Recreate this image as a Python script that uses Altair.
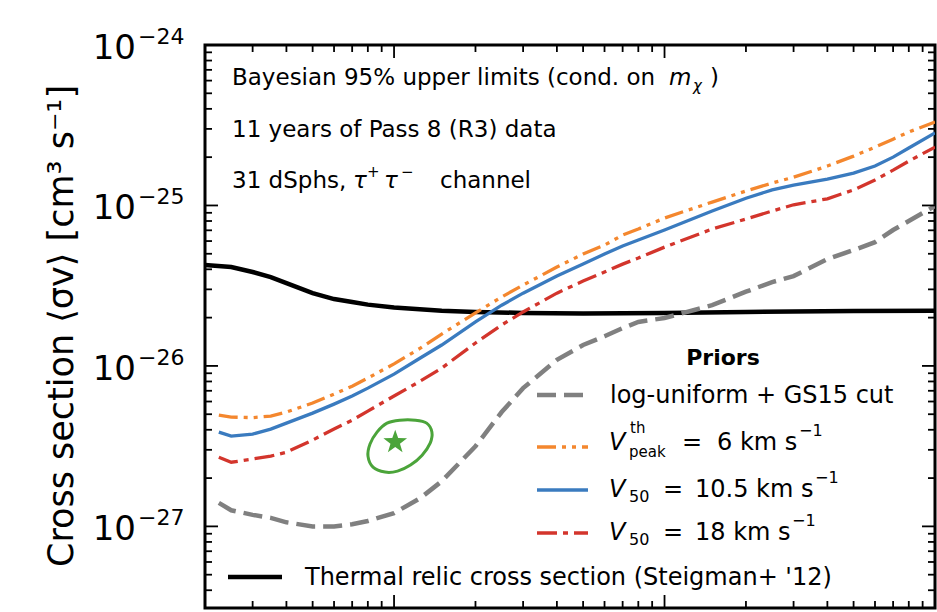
import altair as alt
import pandas as pd

# ---------------- data ----------------
mass = [2.25, 2.5, 3, 3.5, 4, 5, 6, 7, 8, 10, 12.5, 15, 20, 25, 30, 40, 50, 60, 70, 80,
        100, 150, 200, 250, 300, 400, 500, 600, 700, 800, 1000]

sv_vpeak6 = [4.94e-27, 4.80e-27, 4.76e-27, 4.87e-27, 5.16e-27, 5.87e-27, 6.67e-27, 7.48e-27, 8.40e-27,
             1.03e-26, 1.29e-26, 1.58e-26, 2.14e-26, 2.69e-26, 3.19e-26, 4.13e-26, 4.98e-26, 5.66e-26,
             6.54e-26, 7.13e-26, 8.35e-26, 1.05e-25, 1.23e-25, 1.38e-25, 1.50e-25, 1.76e-25, 2.03e-25,
             2.31e-25, 2.59e-25, 2.87e-25, 3.31e-25]

sv_v50_105 = [3.87e-27, 3.65e-27, 3.76e-27, 4.04e-27, 4.40e-27, 5.08e-27, 5.78e-27, 6.49e-27, 7.27e-27,
              8.89e-27, 1.12e-26, 1.35e-26, 1.88e-26, 2.39e-26, 2.84e-26, 3.63e-26, 4.31e-26, 4.98e-26,
              5.59e-26, 6.09e-26, 7.03e-26, 9.23e-26, 1.11e-25, 1.25e-25, 1.34e-25, 1.46e-25, 1.59e-25,
              1.76e-25, 2.00e-25, 2.28e-25, 2.83e-25]

sv_v50_18 = [2.70e-27, 2.51e-27, 2.63e-27, 2.74e-27, 2.90e-27, 3.45e-27, 4.04e-27, 4.59e-27, 5.23e-27,
             6.49e-27, 8.04e-27, 9.69e-27, 1.39e-26, 1.80e-26, 2.17e-26, 2.84e-26, 3.38e-26, 3.85e-26,
             4.31e-26, 4.70e-26, 5.50e-26, 7.13e-26, 8.23e-26, 9.23e-26, 1.01e-25, 1.10e-25, 1.25e-25,
             1.44e-25, 1.66e-25, 1.89e-25, 2.31e-25]

sv_loguniform = [1.40e-27, 1.26e-27, 1.18e-27, 1.13e-27, 1.06e-27, 1.00e-27, 1.00e-27, 1.03e-27, 1.08e-27,
                 1.21e-27, 1.50e-27, 1.91e-27, 3.16e-27, 5.16e-27, 7.27e-27, 1.09e-26, 1.35e-26, 1.53e-26,
                 1.72e-26, 1.88e-26, 1.99e-26, 2.39e-26, 2.90e-26, 3.33e-26, 3.63e-26, 4.63e-26, 5.27e-26,
                 5.91e-26, 7.03e-26, 8.00e-26, 9.92e-26]

thermal_mass = [2, 2.5, 3, 3.5, 4, 5, 6, 7, 8, 10, 15, 20, 30, 50, 100, 200, 500, 1000]
thermal_sv = [4.25e-26, 4.13e-26, 3.85e-26, 3.58e-26, 3.28e-26, 2.84e-26, 2.61e-26, 2.50e-26, 2.41e-26,
              2.31e-26, 2.21e-26, 2.17e-26, 2.14e-26, 2.12e-26, 2.14e-26, 2.17e-26, 2.20e-26, 2.21e-26]

contour_mass = [9.42, 10.5, 12.0, 13.2, 13.8, 13.6, 12.7, 11.5, 10.3, 9.26, 8.36, 8.01, 8.15, 8.65]
contour_sv = [4.40e-27, 4.59e-27, 4.59e-27, 4.40e-27, 3.87e-27, 3.30e-27, 2.78e-27, 2.41e-27, 2.21e-27,
              2.18e-27, 2.34e-27, 2.74e-27, 3.26e-27, 3.87e-27]

best_mass = [10.1]
best_sv = [3.35e-27]

x_domain = [2, 1000]
y_domain = [3.1e-28, 1e-24]

y_major = [1e-27, 1e-26, 1e-25, 1e-24]
y_major_labels = ["\u221227", "\u221226", "\u221225", "\u221224"]
y_minor = [4e-28, 5e-28, 6e-28, 7e-28, 8e-28, 9e-28,
           2e-27, 3e-27, 4e-27, 5e-27, 6e-27, 7e-27, 8e-27, 9e-27,
           2e-26, 3e-26, 4e-26, 5e-26, 6e-26, 7e-26, 8e-26, 9e-26,
           2e-25, 3e-25, 4e-25, 5e-25, 6e-25, 7e-25, 8e-25, 9e-25]
x_major = [10, 100]
x_minor = [3, 4, 5, 6, 7, 8, 9, 20, 30, 40, 50, 60, 70, 80, 90,
           200, 300, 400, 500, 600, 700, 800, 900]

# ---------------- styling ----------------
W, H = 730, 563
OX, OY = 205, 45          # plot origin inside the page
FONT = "DejaVu Sans"
C_ORANGE = "#f4872e"
C_BLUE = "#3a7bbf"
C_RED = "#d3352c"
C_GRAY = "#808080"
C_GREEN = "#4ba43a"
DASH_GRAY = [19, 8]
DASH_ORANGE = [19, 6, 4, 6, 4, 6]
DASH_RED = [20, 6, 5, 6]

xs = alt.Scale(type="log", domain=x_domain)
ys = alt.Scale(type="log", domain=y_domain)
dummy = pd.DataFrame({"a": [0]})


def curve(m, s, color, width, dash=None):
    df = pd.DataFrame({"m": m, "s": s})
    props = dict(color=color, strokeWidth=width, clip=True)
    if dash:
        props["strokeDash"] = dash
    return alt.Chart(df).mark_line(**props).encode(
        x=alt.X("m:Q", scale=xs, axis=None),
        y=alt.Y("s:Q", scale=ys, axis=None),
    )


def yticks(vals, x1, x2):
    return alt.Chart(pd.DataFrame({"v": vals})).mark_rule(color="black", strokeWidth=1.8).encode(
        y=alt.Y("v:Q", scale=ys, axis=None), x=alt.value(x1), x2=alt.value(x2))


def xticks(vals, y1, y2):
    return alt.Chart(pd.DataFrame({"v": vals})).mark_rule(color="black", strokeWidth=1.8).encode(
        x=alt.X("v:Q", scale=xs, axis=None), y=alt.value(y1), y2=alt.value(y2))


def txt(s, px, py, size, style="normal", weight="normal", align="left",
        baseline="alphabetic", angle=0):
    return alt.Chart(dummy).mark_text(
        text=s, font=FONT, fontSize=size, fontStyle=style, fontWeight=weight,
        align=align, baseline=baseline, angle=angle, color="black"
    ).encode(x=alt.value(px - OX), y=alt.value(py - OY))


def legline(x1, x2, py, color, width, dash=None):
    props = dict(color=color, strokeWidth=width)
    if dash:
        props["strokeDash"] = dash
    return alt.Chart(dummy).mark_rule(**props).encode(
        x=alt.value(x1 - OX), x2=alt.value(x2 - OX), y=alt.value(py - OY))


layers = []

# curves
layers.append(curve(thermal_mass, thermal_sv, "black", 4.5))
layers.append(curve(mass, sv_loguniform, C_GRAY, 4.5, DASH_GRAY))
layers.append(curve(mass, sv_vpeak6, C_ORANGE, 3.3, DASH_ORANGE))
layers.append(curve(mass, sv_v50_105, C_BLUE, 3.3))
layers.append(curve(mass, sv_v50_18, C_RED, 3.3, DASH_RED))

# green contour + best-fit star
cdf = pd.DataFrame({"m": contour_mass, "s": contour_sv, "i": list(range(len(contour_mass)))})
layers.append(alt.Chart(cdf).mark_line(color=C_GREEN, strokeWidth=3, interpolate="cardinal-closed").encode(
    x=alt.X("m:Q", scale=xs, axis=None), y=alt.Y("s:Q", scale=ys, axis=None), order="i:Q"))
STAR = ("M0,-1L0.236,-0.325L0.951,-0.309L0.382,0.124L0.588,0.809L0,0.4L-0.588,0.809"
        "L-0.382,0.124L-0.951,-0.309L-0.236,-0.325Z")
layers.append(alt.Chart(pd.DataFrame({"m": best_mass, "s": best_sv})).mark_point(
    shape=STAR, filled=True, color=C_GREEN, opacity=1, size=620).encode(
    x=alt.X("m:Q", scale=xs, axis=None), y=alt.Y("s:Q", scale=ys, axis=None)))

# inward ticks on all four sides
layers += [yticks(y_major, 0, 13), yticks(y_minor, 0, 7),
           yticks(y_major, W, W - 13), yticks(y_minor, W, W - 7),
           xticks(x_major, H, H - 13), xticks(x_minor, H, H - 7),
           xticks(x_major, 0, 13), xticks(x_minor, 0, 7)]

# y tick labels  10^{-n}
ylab = pd.DataFrame({"v": y_major, "lab": y_major_labels})
layers.append(alt.Chart(ylab).mark_text(text="10", font=FONT, fontSize=34, align="right",
                                        baseline="alphabetic", dy=14, color="black").encode(
    y=alt.Y("v:Q", scale=ys, axis=None), x=alt.value(136 - OX)))
layers.append(alt.Chart(ylab).mark_text(font=FONT, fontSize=22, align="left",
                                        baseline="alphabetic", dy=-1, color="black").encode(
    y=alt.Y("v:Q", scale=ys, axis=None), x=alt.value(138 - OX), text="lab:N"))

# y axis title
layers.append(txt("Cross section \u27e8\u03c3v\u27e9 [cm\u00b3 s\u207b\u00b9]", 62, 326, 35,
                  align="center", baseline="middle", angle=270))

# annotation (top-left)
layers += [
    txt("Bayesian 95% upper limits (cond. on", 232, 85, 23),
    txt("m", 669, 85, 23, style="italic"),
    txt("\u03c7", 693, 91, 15, style="italic"),
    txt(")", 710, 85, 23),
    txt("11 years of Pass 8 (R3) data", 232, 137, 23),
    txt("31 dSphs,", 232, 188, 23),
    txt("\u03c4", 353, 188, 23, style="italic"),
    txt("+", 367, 177, 15),
    txt("\u03c4", 384, 188, 23, style="italic"),
    txt("\u2212", 401, 177, 15),
    txt("channel", 440, 188, 23),
]

# legend (Priors)
layers += [
    txt("Priors", 723, 365, 22, weight="bold", align="center"),
    legline(537, 588, 395, C_GRAY, 4.5, DASH_GRAY),
    txt("log-uniform + GS15 cut", 610, 403, 24),
    legline(537, 588, 447, C_ORANGE, 3.3, DASH_ORANGE),
    txt("V", 609, 450, 24, style="italic"),
    txt("th", 630, 433, 15),
    txt("peak", 629, 457, 15),
    txt("=", 682, 450, 24),
    txt("6 km s", 717, 450, 24),
    txt("\u22121", 799, 436, 16),
    legline(537, 588, 490, C_BLUE, 3.3),
    txt("V", 609, 497, 24, style="italic"),
    txt("50", 629, 502, 16),
    txt("=", 663, 497, 24),
    txt("10.5 km s", 695, 497, 24),
    txt("\u22121", 815, 483, 16),
    legline(537, 588, 533, C_RED, 3.3, DASH_RED),
    txt("V", 609, 540, 24, style="italic"),
    txt("50", 629, 545, 16),
    txt("=", 663, 540, 24),
    txt("18 km s", 695, 540, 24),
    txt("\u22121", 792, 526, 16),
    legline(228, 282, 577, "black", 4.5),
    txt("Thermal relic cross section (Steigman+ '12)", 305, 585, 24),
]

chart = alt.layer(*layers).properties(
    width=W, height=H,
    autosize=alt.AutoSizeParams(type="none"),
    padding={"left": OX, "top": OY, "right": 937 - OX - W, "bottom": 612 - OY - H},
).configure_view(stroke="black", strokeWidth=3)

chart.save("out.html", embed_options={"renderer": "svg", "actions": False})
